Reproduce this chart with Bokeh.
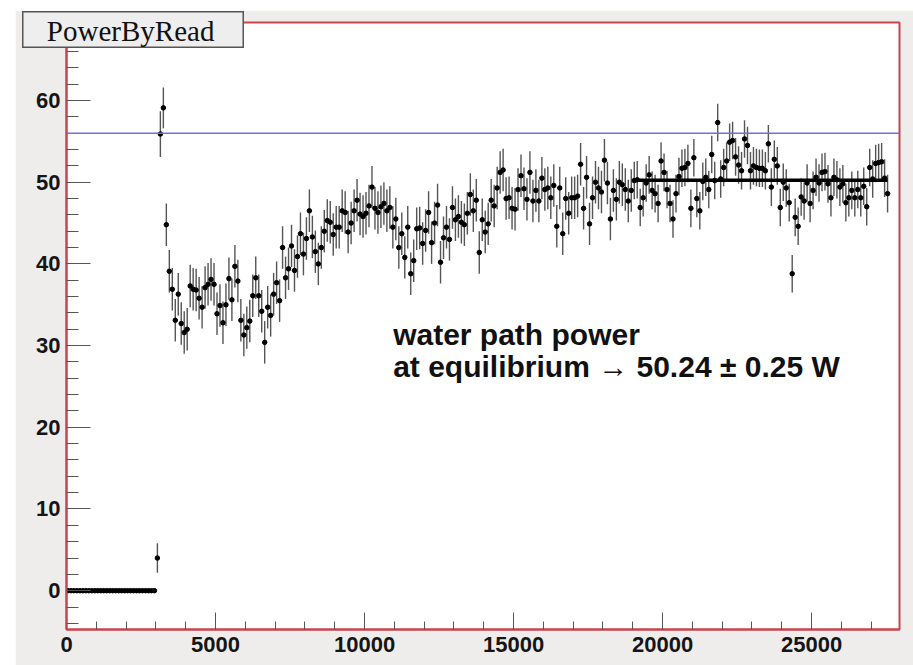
from bokeh.plotting import figure
from bokeh.layouts import column
from bokeh.models import Range1d, SingleIntervalTicker, Span, Label, ColumnDataSource
from bokeh.core.properties import value
from bokeh.embed import file_html
from bokeh.resources import INLINE

# ---------------- data ----------------
TITLE = "PowerByRead"
BIN_WIDTH = 100
FIRST_BIN_CENTER = 50

# bins 50 .. 2950 : no power read yet
FLAT_VALUES = [0.0] * 30
FLAT_ERRORS = [0.0] * 30

# bins 3050 .. 27550
READ_VALUES = [
    4.0, 55.9, 59.1, 44.8, 39.1, 36.9, 33.1, 36.3, 32.7, 31.6,
    32.0, 37.3, 36.9, 36.8, 35.8, 34.7, 37.1, 37.5, 38.1, 37.5,
    33.9, 34.9, 32.8, 35.0, 38.2, 35.6, 39.7, 37.9, 33.1, 31.3,
    32.2, 33.0, 36.1, 38.3, 36.1, 34.2, 30.4, 34.7, 33.7, 36.3,
    37.7, 35.5, 42.0, 38.3, 39.4, 42.2, 39.2, 40.9, 43.7, 41.2,
    43.1, 46.5, 43.3, 41.5, 40.0, 42.0, 44.0, 45.3, 45.1, 43.6,
    44.5, 44.5, 46.5, 46.3, 43.9, 45.0, 46.5, 47.8, 46.1, 45.8,
    46.2, 47.1, 49.4, 46.8, 46.3, 47.0, 47.4, 46.5, 46.9, 44.5,
    45.5, 42.0, 43.7, 40.8, 44.5, 38.8, 40.4, 44.3, 44.4, 42.5,
    44.1, 46.3, 42.6, 45.0, 47.2, 40.2, 43.2, 44.5, 43.0, 46.9,
    45.4, 45.8, 45.1, 44.8, 46.2, 48.5, 46.5, 47.8, 41.4, 45.4,
    43.9, 44.9, 47.8, 47.1, 49.3, 51.2, 51.5, 48.0, 48.1, 46.8,
    46.7, 49.1, 50.8, 49.2, 47.9, 51.2, 47.7, 49.0, 47.7, 50.5,
    49.1, 49.3, 48.1, 49.6, 44.6, 49.3, 43.7, 48.0, 46.2, 48.1,
    48.1, 48.3, 52.2, 46.8, 50.6, 44.9, 48.1, 50.0, 49.3, 48.8,
    52.7, 49.9, 45.5, 49.0, 47.9, 50.0, 49.7, 49.1, 47.7, 49.0,
    50.2, 50.3, 46.9, 48.1, 49.9, 50.9, 49.0, 48.6, 47.4, 52.6,
    51.2, 49.1, 47.4, 45.5, 48.6, 50.7, 51.7, 51.8, 52.3, 46.8,
    53.0, 48.0, 46.5, 50.1, 50.6, 49.1, 53.4, 50.2, 57.3, 50.4,
    51.8, 52.6, 54.9, 55.1, 53.1, 52.1, 51.4, 55.3, 54.5, 51.4,
    52.0, 51.8, 51.7, 51.7, 51.4, 54.7, 49.4, 52.8, 52.0, 46.9,
    50.0, 49.3, 47.5, 38.8, 45.7, 44.6, 48.2, 47.7, 49.9, 47.4,
    49.0, 50.6, 49.9, 51.2, 51.3, 49.8, 48.1, 50.6, 50.3, 49.4,
    49.8, 47.5, 48.1, 49.0, 48.1, 49.1, 48.1, 49.5, 47.0, 51.8,
    50.4, 52.3, 52.4, 52.5, 50.5, 48.6,
]
READ_ERRORS = [1.8, 2.8, 2.5] + [2.6] * 157 + [2.3] * 86

REF_LEVEL = 56.0
FIT_X = [19100, 27550]
FIT_LEVEL = 50.24
NOTE_LINES = ["water path power", "at equilibrium \u2192 50.24 \u00b1 0.25 W"]

X_RANGE = (0, 27950)
Y_RANGE = (-4.75, 69.55)

# ---------------- build ----------------
values = FLAT_VALUES + READ_VALUES
errors = FLAT_ERRORS + READ_ERRORS
xs = [FIRST_BIN_CENTER + BIN_WIDTH * i for i in range(len(values))]

src = ColumnDataSource(dict(
    x=xs, y=values,
    lo=[v - e for v, e in zip(values, errors)],
    hi=[v + e for v, e in zip(values, errors)],
    xl=[x - BIN_WIDTH / 2 for x in xs],
    xr=[x + BIN_WIDTH / 2 for x in xs],
))

RED = "#c8454e"
CANVAS = "#efedeb"

p = figure(width=898, height=655,
           x_range=Range1d(*X_RANGE), y_range=Range1d(*Y_RANGE),
           output_backend="svg", toolbar_location=None,
           min_border_left=51, min_border_right=14,
           min_border_top=12, min_border_bottom=36,
           background_fill_color="white", border_fill_color=CANVAS,
           outline_line_color=RED, outline_line_width=2)
p.margin = (10, 0, 0, 15)
p.frame_align = False
p.xgrid.visible = False
p.ygrid.visible = False

p.xaxis.ticker = SingleIntervalTicker(interval=5000, num_minor_ticks=5)
p.yaxis.ticker = SingleIntervalTicker(interval=10, num_minor_ticks=5)

for ax in (p.xaxis[0], p.yaxis[0]):
    ax.axis_line_color = RED
    ax.axis_line_width = 2
    ax.major_tick_out = 0
    ax.minor_tick_out = 0
    ax.major_tick_line_color = "#555555"
    ax.minor_tick_line_color = "#555555"
    ax.major_label_text_font = "Liberation Sans"
    ax.major_label_text_font_style = "bold"
    ax.major_label_text_font_size = "22px"
    ax.major_label_text_color = "#151515"

p.xaxis.major_tick_in = 17
p.xaxis.minor_tick_in = 8
p.xaxis.major_label_standoff = 7
p.yaxis.major_tick_in = 24
p.yaxis.minor_tick_in = 12
p.yaxis.major_label_standoff = 6

p.add_layout(Span(location=REF_LEVEL, dimension="width",
                  line_color="#7070d8", line_width=1.4))

p.segment(x0="x", y0="lo", x1="x", y1="hi", source=src,
          line_color="#555555", line_width=1.4)
p.segment(x0="xl", y0="y", x1="xr", y1="y", source=src,
          line_color="black", line_width=3.5)
p.scatter(x="x", y="y", source=src, marker="circle", size=4.5,
          fill_color="black", line_color="black")

p.line(FIT_X, [FIT_LEVEL, FIT_LEVEL], line_color="black", line_width=3.5)

note_y = [31.4, 27.4]
for txt, yy in zip(NOTE_LINES, note_y):
    p.add_layout(Label(x=10960, y=yy, text=txt,
                       text_font="Liberation Sans", text_font_style="bold",
                       text_font_size="30px", text_color="#111111",
                       text_baseline="alphabetic", text_align="left"))

# ---- title box (ROOT style), overlapping the frame corner ----
t = figure(width=222, height=37, x_range=Range1d(0, 1), y_range=Range1d(0, 1),
           output_backend="svg", toolbar_location=None,
           min_border=0, background_fill_color="#eeeeee",
           border_fill_color="#eeeeee",
           outline_line_color="#555555", outline_line_width=2)
t.frame_align = False
t.axis.visible = False
t.xgrid.visible = False
t.ygrid.visible = False
t.text(x=[0.487], y=[0.47], text=[TITLE], text_font=value("Liberation Serif"),
       text_font_size="29px", text_color="#111111",
       text_align="center", text_baseline="middle")
t.styles = {"position": "absolute", "left": "22px", "top": "11px",
            "z-index": "10"}

layout = column(p, t)
open("out.html", "w").write(file_html(layout, INLINE))
